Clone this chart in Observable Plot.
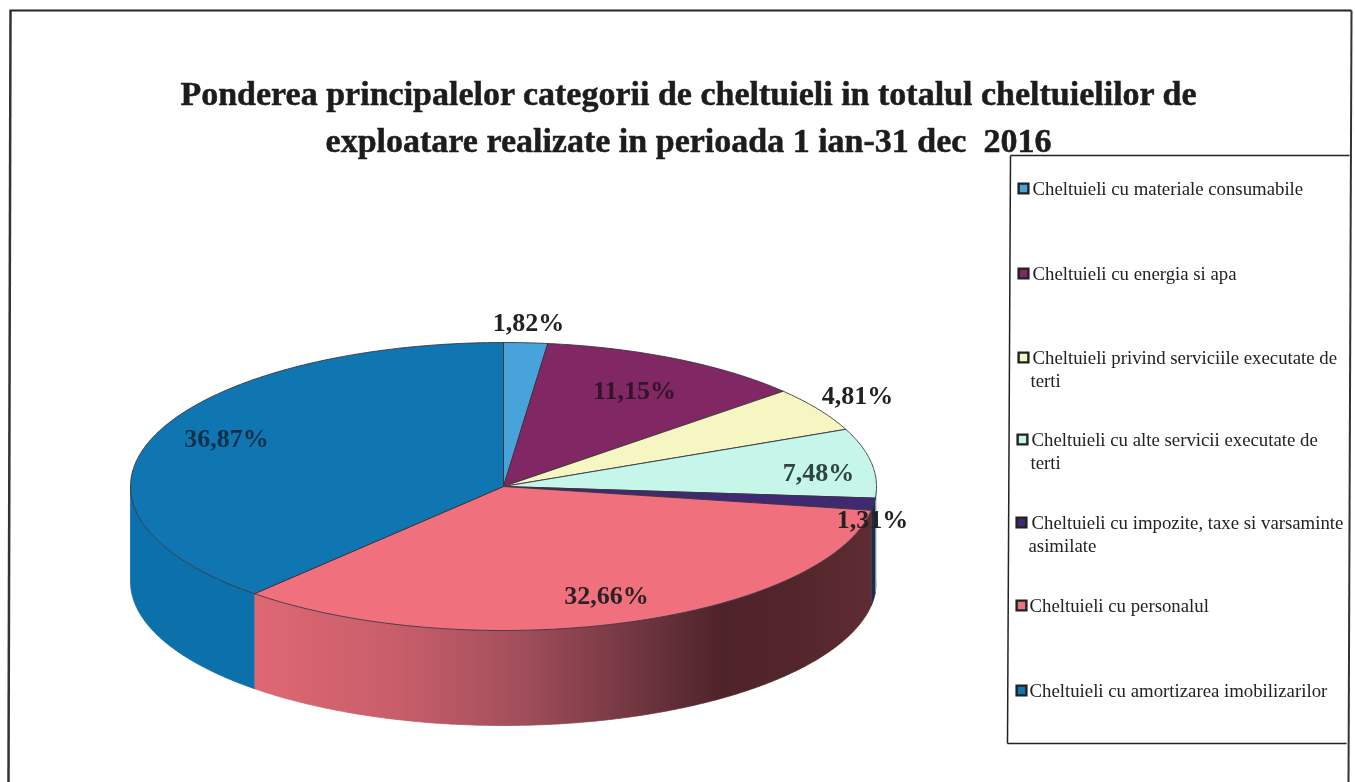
<!DOCTYPE html>
<html><head><meta charset="utf-8">
<script src="https://cdn.jsdelivr.net/npm/d3@7"></script>
<script src="https://cdn.jsdelivr.net/npm/@observablehq/plot@0.6"></script>
<style>html,body{margin:0;padding:0;background:#fff;overflow:hidden}svg{display:block;filter:blur(.45px)}</style>
</head><body><div id="chart"></div>
<script>
const categories = [
  "Cheltuieli cu materiale consumabile",
  "Cheltuieli cu energia si apa",
  "Cheltuieli privind serviciile executate de terti",
  "Cheltuieli cu alte servicii executate de terti",
  "Cheltuieli cu impozite, taxe si varsaminte asimilate",
  "Cheltuieli cu personalul",
  "Cheltuieli cu amortizarea imobilizarilor"
];
const shares = [1.82, 11.15, 4.81, 7.48, 1.31, 32.66, 36.87];
const shareLabels = ["1,82%", "11,15%", "4,81%", "7,48%", "1,31%", "32,66%", "36,87%"];
const sliceColors = ["#48a3da", "#802764", "#f6f6c2", "#c6f6e9", "#3f2a72", "#f1707d", "#0f76b2"];
const wallColors = ["#2a7fa8", "#5a1e3e", "#c0c090", "#90c0b0", "#1f2c44", "url(#redWall)", "#0c70aa"];
const labelColors = ["#222222", "#33142b", "#222222", "#2f4540", "#222222", "#2c2226", "#0c3048"];
const titleLines = [
  "Ponderea principalelor categorii de cheltuieli in totalul cheltuielilor de",
  "exploatare realizate in perioada 1 ian-31 dec  2016"
];

// Layout of the drawing (not data)
const W = 1355, H = 782;
const pie = {cx: 503, cy: 486, rx: 373, ry: 144, depth: 95};
const labelAt = [[528,322],[634,390],[857,395],[818,472],[872,519],[606,595],[226,438]];
const legendLines = [
  {i:0, y:188, swatchX:1023, lines:[["Cheltuieli cu materiale consumabile",1032]]},
  {i:1, y:273, swatchX:1023, lines:[["Cheltuieli cu energia si apa",1032]]},
  {i:2, y:357, swatchX:1023, lines:[["Cheltuieli privind serviciile executate de",1032],["terti",1030]]},
  {i:3, y:439, swatchX:1022, lines:[["Cheltuieli cu alte servicii executate de",1031],["terti",1030]]},
  {i:4, y:522, swatchX:1021, lines:[["Cheltuieli cu impozite, taxe si varsaminte",1031],["asimilate",1028]]},
  {i:5, y:605, swatchX:1021, lines:[["Cheltuieli cu personalul",1029]]},
  {i:6, y:690, swatchX:1021, lines:[["Cheltuieli cu amortizarea imobilizarilor",1029]]}
];

const total = d3.sum(shares);
let acc = 0;
const arcs = shares.map((v, i) => {
  const a0 = acc / total * 2 * Math.PI; acc += v;
  return {i, a0, a1: acc / total * 2 * Math.PI};
});
const px = a => pie.cx + pie.rx * Math.sin(a);
const py = (a, dz = 0) => pie.cy - pie.ry * Math.cos(a) + dz;
const STEP = Math.PI / 360;

// top faces
const topFaces = [];
arcs.forEach(({i, a0, a1}) => {
  const id = "top" + i, color = sliceColors[i];
  topFaces.push({id, color, x: pie.cx, y: pie.cy});
  const n = Math.ceil((a1 - a0) / STEP);
  for (let k = 0; k <= n; ++k) {
    const a = a0 + (a1 - a0) * k / n;
    topFaces.push({id, color, x: px(a), y: py(a)});
  }
  topFaces.push({id, color, x: pie.cx, y: pie.cy});
});

// side walls of the front half, one polygon per slice
const wall = [];
arcs.forEach(({i, a0, a1}) => {
  const s = Math.max(a0, Math.PI / 2), e = Math.min(a1, 3 * Math.PI / 2);
  if (e <= s) return;
  const id = "wall" + i, color = wallColors[i];
  const n = Math.ceil((e - s) / STEP);
  for (let k = 0; k <= n; ++k) {
    const a = s + (e - s) * k / n;
    wall.push({id, color, x: px(a), y: py(a)});
  }
  for (let k = n; k >= 0; --k) {
    const a = s + (e - s) * k / n;
    wall.push({id, color, x: px(a), y: py(a, pie.depth)});
  }
});

// shading of the personnel wall along x
const gradientStops = [[0, "#df6873"], [0.24, "#c75e6a"], [0.44, "#a04e5a"], [0.63, "#6f3540"], [0.76, "#4e2329"], [0.89, "#54262c"], [1, "#5e2c32"]];
const gradient = () => {
  const defs = d3.create("svg:defs");
  const g = defs.append("linearGradient").attr("id", "redWall")
    .attr("gradientUnits", "userSpaceOnUse")
    .attr("x1", 250).attr("x2", 870).attr("y1", 0).attr("y2", 0);
  gradientStops.forEach(([o, c]) => g.append("stop").attr("offset", o).attr("stop-color", c));
  return defs.node();
};

const labels = shareLabels.map((t, i) => ({t, x: labelAt[i][0], y: labelAt[i][1], color: labelColors[i]}));
const legendText = legendLines.flatMap(d => d.lines.map(([t, x], k) => ({t, x, y: d.y + k * 23.5})));
const swatches = legendLines.map(d => ({x: d.swatchX, y: d.y, color: sliceColors[d.i]}));
const titles = titleLines.map((t, k) => ({t, y: 94 + k * 47}));

const serif = "'Liberation Serif','Times New Roman',serif";
const chart = Plot.plot({
  width: W, height: H, margin: 0,
  style: {background: "#fff"},
  x: {axis: null, domain: [0, W], range: [0, W]},
  y: {axis: null, domain: [0, H], range: [0, H]},
  color: {type: "identity"},
  marks: [
    gradient,
    // outer frame
    Plot.link([{x1: 9, y1: 10, x2: 1351, y2: 10}], {x1: "x1", y1: "y1", x2: "x2", y2: "y2", stroke: "#222", strokeWidth: 2}),
    Plot.link([{x1: 10, y1: 10, x2: 8, y2: H}], {x1: "x1", y1: "y1", x2: "x2", y2: "y2", stroke: "#333", strokeWidth: 2.5}),
    Plot.link([{x1: 1351, y1: 10, x2: 1348, y2: H}], {x1: "x1", y1: "y1", x2: "x2", y2: "y2", stroke: "#333", strokeWidth: 2}),
    // pie walls
    Plot.line(wall, {x: "x", y: "y", z: "id", fill: "color", stroke: "color", strokeWidth: 0.8}),
    // top faces
    Plot.line(topFaces, {x: "x", y: "y", z: "id", fill: "color", stroke: "#3a3340", strokeWidth: 0.9}),
    // title
    Plot.text(titles, {x: 688, y: "y", text: "t", fontFamily: serif, fontWeight: "bold", fontSize: 34, fill: "#1c1c1c", stroke: "#1c1c1c", strokeWidth: 0.5, textAnchor: "middle"}),
    // value labels
    Plot.text(labels, {x: "x", y: "y", text: "t", fontFamily: serif, fontWeight: "bold", fontSize: 26, fill: "color"}),
    // legend
    Plot.link([{x1: 1010, y1: 155, x2: 1349, y2: 155}], {x1: "x1", y1: "y1", x2: "x2", y2: "y2", stroke: "#222", strokeWidth: 1.5}),
    Plot.link([{x1: 1007, y1: 743, x2: 1346, y2: 743}], {x1: "x1", y1: "y1", x2: "x2", y2: "y2", stroke: "#222", strokeWidth: 1.5}),
    Plot.link([{x1: 1010, y1: 155, x2: 1007, y2: 743}], {x1: "x1", y1: "y1", x2: "x2", y2: "y2", stroke: "#222", strokeWidth: 1.5}),
    Plot.dot(swatches, {x: "x", y: "y", symbol: "square", r: 5.5, fill: "color", stroke: "#222", strokeWidth: 2.4}),
    Plot.text(legendText, {x: "x", y: "y", text: "t", fontFamily: serif, fontSize: 18.8, fill: "#222", textAnchor: "start"})
  ]
});
document.getElementById("chart").appendChild(chart);
</script></body></html>
